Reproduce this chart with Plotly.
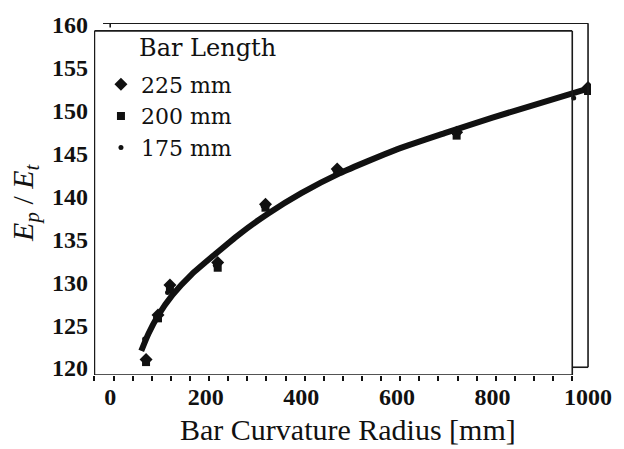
import plotly.graph_objects as go

# Measured modulus ratio Ep/Et against bar curvature radius, per bar length
radius_225 = [75, 100, 125, 225, 325, 475, 725, 1000]
ratio_225 = [121.0, 126.2, 129.7, 132.3, 139.1, 143.2, 147.5, 152.7]

radius_200 = [75, 100, 125, 225, 325, 475, 725, 1000]
ratio_200 = [120.7, 125.8, 129.2, 131.7, 138.7, 142.9, 147.1, 152.3]

radius_175 = [72, 95, 120, 220, 320, 470, 720, 970]
ratio_175 = [123.4, 125.9, 128.8, 132.0, 138.9, 143.1, 147.4, 151.5]

# Trend curve through all bar lengths
fit_radius = [65, 80, 100, 130, 170, 220, 270, 330, 400, 480, 600, 700, 800, 900, 995]
fit_ratio = [122.0, 124.0, 126.1, 128.5, 130.9, 133.3, 135.6, 138.0, 140.4, 142.7,
             145.5, 147.4, 149.2, 150.9, 152.5]

x_tick_vals = [0, 200, 400, 600, 800, 1000]
y_tick_vals = [120, 125, 130, 135, 140, 145, 150, 155, 160]

X_RANGE = [-33.9, 1006.2]
Y_RANGE = [119.195, 160.23]

SERIF = "Liberation Serif"
WIDE_SERIF = "DejaVu Serif"
INK = "#111111"

fig = go.Figure()

fig.add_trace(go.Scatter(
    x=fit_radius, y=fit_ratio, mode="lines",
    line=dict(color=INK, width=6, shape="spline", smoothing=0.6),
    showlegend=False, hoverinfo="skip",
))
fig.add_trace(go.Scatter(
    x=radius_225, y=ratio_225, mode="markers", name="225 mm",
    marker=dict(symbol="diamond", size=10, color=INK),
))
fig.add_trace(go.Scatter(
    x=radius_200, y=ratio_200, mode="markers", name="200 mm",
    marker=dict(symbol="square", size=8, color=INK),
))
fig.add_trace(go.Scatter(
    x=radius_175, y=ratio_175, mode="markers", name="175 mm",
    marker=dict(symbol="circle", size=5, color=INK),
))

# Frame: offset axis box plus the inner box
frame = dict(type="line", xref="x", yref="y", line=dict(color="#1a1a1a", width=1.6))
x0, x1 = -33.0, 967.0
y0, y1 = 119.2, 159.31
shapes = [
    dict(frame, x0=x0, x1=x0, y0=y0, y1=y1),
    dict(frame, x0=x0, x1=x1, y0=y0, y1=y0),
    dict(frame, x0=x0, x1=x1, y0=y1, y1=y1),
    dict(frame, x0=x1, x1=x1, y0=y0, y1=y1),
    dict(frame, x0=-15.0, x1=1000.0, y0=160.2, y1=160.2),
    dict(frame, x0=1000.0, x1=1000.0, y0=120.1, y1=160.2),
    dict(frame, x0=x1, x1=1000.0, y0=120.1, y1=120.1),
    dict(frame, x0=0.0, x1=0.0, y0=159.7, y1=160.2),
]

fig.update_layout(
    width=624, height=449,
    margin=dict(l=94, r=24, t=18, b=74),
    paper_bgcolor="white", plot_bgcolor="white",
    shapes=shapes,
    font=dict(family=SERIF, color=INK),
    showlegend=True,
    legend=dict(
        x=0.014, y=0.885, xanchor="left", yanchor="top",
        font=dict(family=WIDE_SERIF, size=22, color=INK),
        bgcolor="rgba(0,0,0,0)", tracegroupgap=0, itemwidth=30,
    ),
    annotations=[
        dict(text="Bar Length", xref="paper", yref="paper", x=0.087, y=0.93,
             xanchor="left", yanchor="middle", showarrow=False,
             font=dict(family=WIDE_SERIF, size=24, color=INK)),
        dict(text="Bar Curvature Radius [mm]", xref="paper", yref="paper",
             x=0.512, y=-0.155, xanchor="center", yanchor="middle", showarrow=False,
             font=dict(family=SERIF, size=30, color=INK)),
        dict(text="<i>E</i><sub><i>p</i></sub> / <i>E</i><sub><i>t</i></sub>",
             xref="paper", yref="paper", x=-0.14, y=0.49, textangle=-90,
             xanchor="center", yanchor="middle", showarrow=False,
             font=dict(family=SERIF, size=30, color=INK)),
    ],
)

fig.update_xaxes(
    range=X_RANGE, showgrid=False, zeroline=False, showline=False,
    tickvals=x_tick_vals, ticktext=[str(v) for v in x_tick_vals],
    ticks="", ticklabelstandoff=5,
    tickfont=dict(family=SERIF, size=24, color=INK, weight="bold"),
    minor=dict(ticks="outside", tick0=7, dtick=40, ticklen=5, tickwidth=1.5,
               tickcolor=INK, showgrid=False),
)
fig.update_yaxes(
    range=Y_RANGE, showgrid=False, zeroline=False, showline=False,
    tickvals=y_tick_vals, ticktext=[str(v) for v in y_tick_vals],
    ticks="", ticklabelstandoff=5,
    tickfont=dict(family=SERIF, size=24, color=INK, weight="bold"),
)

fig.write_html("out.html")
